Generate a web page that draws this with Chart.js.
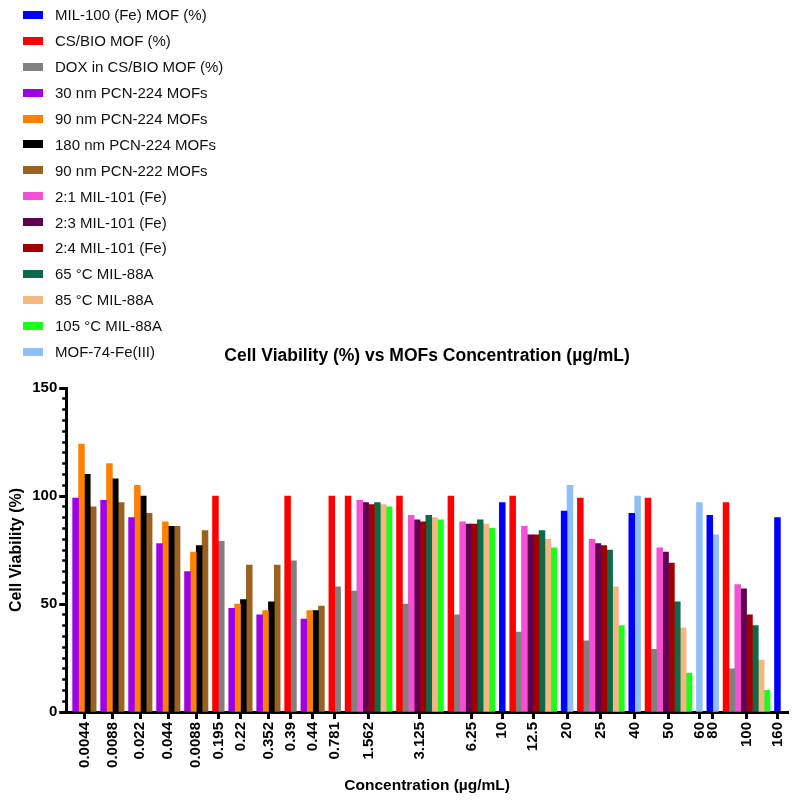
<!DOCTYPE html>
<html>
<head>
<meta charset="utf-8">
<title>Cell Viability (%) vs MOFs Concentration</title>
<script src="https://cdn.jsdelivr.net/npm/chart.js@4.4.1/dist/chart.umd.min.js"></script>
<style>
  body { margin: 0; background: #fff; }
  #wrap { position: relative; width: 797px; height: 800px; }
  #legend {
    position: absolute; left: 0; top: 2px; margin: 0; padding: 0; list-style: none;
    font: 15px "Liberation Sans", Arial, sans-serif; color: #111;
  }
  #legend li { display: flex; align-items: center; height: 25.9px; white-space: nowrap; }
  #legend .box { display: inline-block; width: 20px; height: 8px; margin: 0 12px 0 23px; }
</style>
</head>
<body>
<div id="wrap">
  <canvas id="chart" width="797" height="800"></canvas>
  <ul id="legend"></ul>
</div>
<script>
// Concentrations (µg/mL) as printed on the x axis, left to right
const concLabels = ['0.0044', '0.0088', '0.022', '0.044', '0.0088', '0.195', '0.22', '0.352', '0.39', '0.44',
  '0.781', '1.562', '3.125', '6.25', '10', '12.5', '20', '25', '40', '50', '60', '80', '100', '160'];

// Cell viability (%) per concentration, null = not measured
const mil100     = [null, null, null, null, null, null, null, null, null, null, null, null, null, null, 97, null, 93, null, 92, null, null, 91, null, 90];
const csBio      = [null, null, null, null, null, 100, null, null, 100, null, 100, 100, 100, 100, null, 100, null, 99, null, 99, null, null, 97, null];
const doxCsBio   = [null, null, null, null, null, 79, null, null, 70, null, 58, 56, 50, 45, null, 37, null, 33, null, 29, null, null, 20, null];
const pcn224_30  = [99, 98, 90, 78, 65, null, 48, 45, null, 43, null, null, null, null, null, null, null, null, null, null, null, null, null, null];
const pcn224_90  = [124, 115, 105, 88, 74, null, 50, 47, null, 47, null, null, null, null, null, null, null, null, null, null, null, null, null, null];
const pcn224_180 = [110, 108, 100, 86, 77, null, 52, 51, null, 47, null, null, null, null, null, null, null, null, null, null, null, null, null, null];
const pcn222_90  = [95, 97, 92, 86, 84, null, 68, 68, null, 49, null, null, null, null, null, null, null, null, null, null, null, null, null, null];
const mil101_21  = [null, null, null, null, null, null, null, null, null, null, null, 98, 91, 88, null, 86, null, 80, null, 76, null, null, 59, null];
const mil101_23  = [null, null, null, null, null, null, null, null, null, null, null, 97, 89, 87, null, 82, null, 78, null, 74, null, null, 57, null];
const mil101_24  = [null, null, null, null, null, null, null, null, null, null, null, 96, 88, 87, null, 82, null, 77, null, 69, null, null, 45, null];
const mil88a_65  = [null, null, null, null, null, null, null, null, null, null, null, 97, 91, 89, null, 84, null, 75, null, 51, null, null, 40, null];
const mil88a_85  = [null, null, null, null, null, null, null, null, null, null, null, 96, 90, 87, null, 80, null, 58, null, 39, null, null, 24, null];
const mil88a_105 = [null, null, null, null, null, null, null, null, null, null, null, 95, 89, 85, null, 76, null, 40, null, 18, null, null, 10, null];
const mof74      = [null, null, null, null, null, null, null, null, null, null, null, null, null, null, null, null, 105, null, 100, null, 97, 82, null, null];

const series = [
  { label: 'MIL-100 (Fe) MOF (%)', data: mil100, color: '#0000ff' },
  { label: 'CS/BIO MOF (%)', data: csBio, color: '#ff0000' },
  { label: 'DOX in CS/BIO MOF (%)', data: doxCsBio, color: '#808080' },
  { label: '30 nm PCN-224 MOFs', data: pcn224_30, color: '#a100e6' },
  { label: '90 nm PCN-224 MOFs', data: pcn224_90, color: '#ff8000' },
  { label: '180 nm PCN-224 MOFs', data: pcn224_180, color: '#000000' },
  { label: '90 nm PCN-222 MOFs', data: pcn222_90, color: '#9a6120' },
  { label: '2:1 MIL-101 (Fe)', data: mil101_21, color: '#f54fd6' },
  { label: '2:3 MIL-101 (Fe)', data: mil101_23, color: '#600050' },
  { label: '2:4 MIL-101 (Fe)', data: mil101_24, color: '#a00000' },
  { label: '65 °C MIL-88A', data: mil88a_65, color: '#0b6a48' },
  { label: '85 °C MIL-88A', data: mil88a_85, color: '#f4b780' },
  { label: '105 °C MIL-88A', data: mil88a_105, color: '#1aff1a' },
  { label: 'MOF-74-Fe(III)', data: mof74, color: '#8fbff7' }
];

// Layout in bar-width units: bars of a concentration sit side by side, groups separated by a gap
const GROUP_GAP = 0.77;
const PAD_LEFT = 1.1;
const PAD_RIGHT = 1.3;

const points = series.map(() => []);
const tickPos = [];
let pos = PAD_LEFT;
concLabels.forEach((lab, i) => {
  const start = pos;
  series.forEach((s, k) => {
    if (s.data[i] == null) return;
    points[k].push({ x: pos + 0.5, y: s.data[i] });
    pos += 1;
  });
  tickPos.push((start + pos) / 2);
  pos += GROUP_GAP;
});
const xMax = pos - GROUP_GAP + PAD_RIGHT;

const FONT = '"Liberation Sans", Arial, sans-serif';
const bold = size => ({ family: FONT, size, weight: 'bold' });

const chart = new Chart(document.getElementById('chart'), {
  type: 'bar',
  data: {
    datasets: series.map((s, k) => ({
      label: s.label,
      data: points[k],
      backgroundColor: s.color,
      borderWidth: 0
    }))
  },
  options: {
    responsive: false,
    animation: false,
    datasets: { bar: { grouped: false, barPercentage: 1, categoryPercentage: 1 } },
    layout: { padding: { left: 3, right: 9, top: 0, bottom: 1.5 } },
    plugins: {
      legend: { display: false },
      tooltip: { enabled: false },
      title: {
        display: true,
        fullSize: false,
        text: 'Cell Viability (%) vs MOFs Concentration (µg/mL)',
        color: '#000',
        font: bold(17.5),
        padding: { top: 346, bottom: 21 }
      }
    },
    scales: {
      x: {
        type: 'linear',
        offset: false,
        min: 0,
        max: xMax,
        afterBuildTicks: ax => { ax.ticks = tickPos.map(v => ({ value: v })); },
        afterFit: ax => { ax.paddingLeft = 0; ax.paddingRight = 0; },
        ticks: {
          autoSkip: false, minRotation: 90, maxRotation: 90, padding: 3,
          color: '#000', font: bold(15),
          callback: (v, i) => concLabels[i]
        },
        grid: { offset: false, drawOnChartArea: false, tickLength: 7, tickWidth: 3, tickColor: '#000' },
        border: { width: 3, color: '#000' },
        title: { display: true, text: 'Concentration (µg/mL)', color: '#000', font: bold(15.5), padding: { top: 6, bottom: 3 } }
      },
      y: {
        min: 0,
        max: 150,
        ticks: { stepSize: 50, padding: 2, color: '#000', font: bold(15) },
        grid: { drawOnChartArea: false, tickLength: 7, tickWidth: 3, tickColor: '#000' },
        border: { width: 3, color: '#000' },
        title: { display: true, text: 'Cell Viability (%)', color: '#000', font: bold(16), padding: { top: 4, bottom: 4 } }
      },
      // minor tick marks every 5 %, laid on the same axis line
      yMinor: {
        position: 'left',
        weight: -1,
        min: 0,
        max: 150,
        ticks: { display: false, stepSize: 5 },
        grid: { drawOnChartArea: false, tickLength: 4, tickWidth: 2.5, tickColor: '#000' },
        border: { display: false },
        afterFit: ax => { ax.width = 0; }
      }
    }
  }
});

// Legend as a plain vertical list above the plot, built from the datasets
document.getElementById('legend').innerHTML = chart.data.datasets.map(d =>
  `<li><span class="box" style="background:${d.backgroundColor}"></span>${d.label}</li>`
).join('');
</script>
</body>
</html>
